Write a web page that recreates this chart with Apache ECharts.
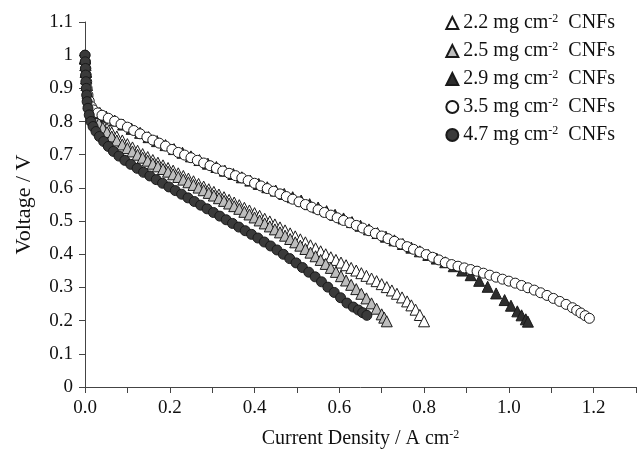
<!DOCTYPE html>
<html>
<head>
<meta charset="utf-8">
<script src="https://cdn.jsdelivr.net/npm/echarts@6/dist/echarts.min.js"></script>
<style>
  html, body { margin: 0; padding: 0; background: #fff; }
  #chart { width: 638px; height: 451px; }
</style>
</head>
<body>
<div id="chart"></div>
<script>
// 电流密度 / 电压 数据 (A cm-2, V)
var cur22 = [0, 0.001, 0.002, 0.003, 0.004, 0.006, 0.009, 0.013, 0.018, 0.025, 0.033, 0.042, 0.052, 0.063, 0.075, 0.088, 0.1, 0.112, 0.124, 0.136, 0.148, 0.16, 0.172, 0.184, 0.196, 0.208, 0.22, 0.232, 0.244, 0.256, 0.268, 0.28, 0.292, 0.304, 0.316, 0.328, 0.34, 0.352, 0.364, 0.376, 0.388, 0.4, 0.412, 0.424, 0.436, 0.448, 0.46, 0.472, 0.484, 0.496, 0.508, 0.52, 0.532, 0.544, 0.556, 0.568, 0.58, 0.592, 0.604, 0.616, 0.628, 0.64, 0.652, 0.664, 0.676, 0.688, 0.7, 0.712, 0.724, 0.736, 0.748, 0.76, 0.77, 0.78, 0.79, 0.8]
var volt22 = [0.99, 0.97, 0.95, 0.93, 0.91, 0.89, 0.87, 0.85, 0.835, 0.82, 0.805, 0.792, 0.779, 0.767, 0.755, 0.743, 0.732, 0.722, 0.712, 0.702, 0.693, 0.684, 0.676, 0.668, 0.66, 0.652, 0.644, 0.636, 0.628, 0.62, 0.612, 0.604, 0.596, 0.588, 0.58, 0.572, 0.564, 0.556, 0.548, 0.54, 0.532, 0.524, 0.516, 0.507, 0.499, 0.49, 0.481, 0.472, 0.463, 0.454, 0.445, 0.436, 0.427, 0.418, 0.409, 0.4, 0.391, 0.383, 0.375, 0.367, 0.359, 0.351, 0.343, 0.335, 0.327, 0.319, 0.31, 0.301, 0.291, 0.281, 0.27, 0.258, 0.246, 0.233, 0.217, 0.198]

var cur25 = [0, 0.001, 0.002, 0.003, 0.004, 0.006, 0.009, 0.013, 0.018, 0.025, 0.033, 0.042, 0.052, 0.063, 0.075, 0.088, 0.1, 0.112, 0.124, 0.136, 0.148, 0.16, 0.172, 0.184, 0.196, 0.208, 0.22, 0.232, 0.244, 0.256, 0.268, 0.28, 0.292, 0.304, 0.316, 0.328, 0.34, 0.352, 0.364, 0.376, 0.388, 0.4, 0.412, 0.424, 0.436, 0.448, 0.46, 0.472, 0.484, 0.496, 0.508, 0.52, 0.532, 0.544, 0.556, 0.568, 0.58, 0.592, 0.604, 0.616, 0.628, 0.64, 0.652, 0.664, 0.676, 0.688, 0.7, 0.706, 0.712]
var volt25 = [0.99, 0.97, 0.95, 0.93, 0.91, 0.885, 0.862, 0.842, 0.826, 0.81, 0.795, 0.781, 0.768, 0.755, 0.743, 0.731, 0.72, 0.71, 0.7, 0.691, 0.682, 0.673, 0.665, 0.657, 0.649, 0.641, 0.633, 0.625, 0.617, 0.609, 0.601, 0.593, 0.585, 0.577, 0.569, 0.561, 0.553, 0.545, 0.537, 0.528, 0.52, 0.511, 0.502, 0.493, 0.484, 0.475, 0.466, 0.456, 0.446, 0.436, 0.426, 0.416, 0.405, 0.394, 0.383, 0.371, 0.359, 0.347, 0.334, 0.321, 0.308, 0.295, 0.281, 0.267, 0.252, 0.236, 0.219, 0.209, 0.198]

var cur29 = [0, 0.002, 0.004, 0.007, 0.012, 0.02, 0.035, 0.05, 0.07, 0.09, 0.11, 0.13, 0.15, 0.17, 0.19, 0.21, 0.23, 0.25, 0.27, 0.29, 0.31, 0.33, 0.35, 0.37, 0.39, 0.41, 0.43, 0.45, 0.47, 0.49, 0.51, 0.53, 0.55, 0.57, 0.59, 0.61, 0.63, 0.65, 0.67, 0.69, 0.71, 0.73, 0.75, 0.77, 0.79, 0.81, 0.83, 0.85, 0.87, 0.89, 0.91, 0.93, 0.95, 0.97, 0.99, 1.005, 1.02, 1.03, 1.04, 1.045]
var volt29 = [0.99, 0.95, 0.91, 0.88, 0.855, 0.838, 0.826, 0.815, 0.803, 0.791, 0.778, 0.766, 0.753, 0.741, 0.729, 0.717, 0.706, 0.695, 0.684, 0.673, 0.663, 0.652, 0.642, 0.632, 0.622, 0.612, 0.602, 0.592, 0.582, 0.572, 0.562, 0.551, 0.541, 0.53, 0.519, 0.508, 0.497, 0.486, 0.475, 0.464, 0.453, 0.442, 0.431, 0.42, 0.409, 0.398, 0.387, 0.376, 0.364, 0.351, 0.337, 0.32, 0.302, 0.282, 0.262, 0.245, 0.228, 0.216, 0.204, 0.197]

var cur35 = [0, 0.001, 0.002, 0.003, 0.004, 0.005, 0.007, 0.01, 0.015, 0.02, 0.03, 0.04, 0.055, 0.07, 0.085, 0.1, 0.115, 0.13, 0.146, 0.16, 0.175, 0.19, 0.205, 0.22, 0.235, 0.25, 0.265, 0.28, 0.295, 0.31, 0.325, 0.34, 0.355, 0.37, 0.385, 0.4, 0.415, 0.43, 0.445, 0.46, 0.475, 0.49, 0.505, 0.52, 0.535, 0.55, 0.565, 0.58, 0.595, 0.61, 0.625, 0.64, 0.655, 0.67, 0.685, 0.7, 0.715, 0.73, 0.745, 0.76, 0.775, 0.79, 0.805, 0.82, 0.835, 0.85, 0.865, 0.88, 0.895, 0.91, 0.925, 0.94, 0.955, 0.97, 0.985, 1.0, 1.015, 1.03, 1.045, 1.06, 1.075, 1.09, 1.105, 1.12, 1.135, 1.15, 1.16, 1.17, 1.18, 1.19]
var volt35 = [1.0, 0.98, 0.96, 0.94, 0.92, 0.9, 0.88, 0.862, 0.845, 0.835, 0.826, 0.819, 0.81, 0.801, 0.792, 0.783, 0.773, 0.763, 0.753, 0.744, 0.735, 0.726, 0.716, 0.707, 0.699, 0.691, 0.683, 0.675, 0.667, 0.659, 0.651, 0.644, 0.637, 0.63, 0.622, 0.614, 0.606, 0.598, 0.59, 0.582, 0.574, 0.566, 0.558, 0.55, 0.542, 0.534, 0.526, 0.518, 0.51, 0.502, 0.495, 0.487, 0.479, 0.471, 0.463, 0.455, 0.447, 0.439, 0.431, 0.423, 0.415, 0.407, 0.399, 0.391, 0.383, 0.375, 0.369, 0.364, 0.359, 0.354, 0.349, 0.343, 0.337, 0.331, 0.325, 0.319, 0.313, 0.306, 0.299, 0.292, 0.284, 0.276, 0.267, 0.258, 0.249, 0.239, 0.231, 0.223, 0.215, 0.207]

var cur47 = [0, 0.0005, 0.001, 0.0015, 0.002, 0.003, 0.004, 0.005, 0.007, 0.01, 0.014, 0.019, 0.026, 0.034, 0.044, 0.055, 0.067, 0.08, 0.094, 0.108, 0.123, 0.138, 0.153, 0.168, 0.183, 0.198, 0.213, 0.228, 0.243, 0.258, 0.273, 0.288, 0.303, 0.318, 0.333, 0.348, 0.363, 0.378, 0.393, 0.408, 0.423, 0.438, 0.453, 0.468, 0.483, 0.498, 0.513, 0.528, 0.543, 0.558, 0.573, 0.588, 0.603, 0.618, 0.633, 0.645, 0.655, 0.665]
var volt47 = [1.0, 0.98, 0.96, 0.94, 0.92, 0.9, 0.88, 0.86, 0.84, 0.82, 0.8, 0.785, 0.77, 0.755, 0.74, 0.725, 0.71, 0.696, 0.683, 0.671, 0.659, 0.647, 0.636, 0.625, 0.614, 0.603, 0.592, 0.581, 0.57, 0.559, 0.548, 0.537, 0.526, 0.515, 0.504, 0.493, 0.482, 0.471, 0.46, 0.449, 0.437, 0.425, 0.413, 0.4, 0.387, 0.374, 0.36, 0.346, 0.332, 0.317, 0.301, 0.285, 0.269, 0.253, 0.241, 0.232, 0.224, 0.216]

var loadings = ['2.2', '2.5', '2.9', '3.5', '4.7']

function pairs(xs, ys) {
  return xs.map(function (x, i) { return [x, ys[i]] })
}

var chart = echarts.init(document.getElementById('chart'))
var font = 'Liberation Serif'

// 上标文字样式 (cm-2)
var richText = {
  t: { fontFamily: font, fontSize: 20, color: '#111' },
  s: { fontFamily: font, fontSize: 12, color: '#111', verticalAlign: 'top', padding: [0, 0, 8, 0] }
}

// 每个系列的标记样式
function makeSeries(name, xs, ys, symbol, fill, size) {
  return {
    name: name,
    type: 'scatter',
    data: pairs(xs, ys),
    symbol: symbol,
    symbolSize: size,
    itemStyle: { color: fill, borderColor: '#1a1a1a', borderWidth: 1, opacity: 1 },
    emphasis: { disabled: true },
    animation: false
  }
}

chart.setOption({
  backgroundColor: '#fff',
  textStyle: { fontFamily: font },
  grid: { left: 85, right: 2, top: 22, bottom: 64, containLabel: false, outerBoundsMode: 'none' },
  legend: {
    orient: 'vertical',
    right: 18,
    top: 8,
    itemWidth: 12,
    itemHeight: 12,
    itemGap: 8,
    data: loadings,
    formatter: function (name) {
      return '{t|' + name + ' mg cm}{s|-2}{t|  CNFs}'
    },
    textStyle: { fontFamily: font, color: '#111', rich: richText }
  },
  xAxis: {
    type: 'value',
    min: 0,
    max: 1.3,
    interval: 0.1,
    name: '{t|Current Density / A cm}{s|-2}',
    nameLocation: 'middle',
    nameGap: 42,
    nameTextStyle: { rich: richText },
    splitLine: { show: false },
    axisLine: { lineStyle: { color: '#444', width: 1 } },
    axisTick: { length: 6, lineStyle: { color: '#444' } },
    axisLabel: {
      margin: 12,
      fontFamily: font,
      fontSize: 19,
      color: '#111',
      formatter: function (v) {
        var k = Math.round(v * 10)
        return k % 2 === 0 ? v.toFixed(1) : ''
      }
    }
  },
  yAxis: {
    type: 'value',
    min: 0,
    max: 1.1,
    interval: 0.1,
    name: 'Voltage / V',
    nameLocation: 'middle',
    nameGap: 50,
    nameTextStyle: { fontFamily: font, fontSize: 22, color: '#111' },
    splitLine: { show: false },
    axisLine: { show: true, lineStyle: { color: '#444', width: 1 } },
    axisTick: { show: true, length: 6, lineStyle: { color: '#444' } },
    axisLabel: {
      margin: 12,
      fontFamily: font,
      fontSize: 19,
      color: '#111',
      formatter: function (v) { return String(Math.round(v * 10) / 10) }
    }
  },
  series: [
    makeSeries('2.2', cur22, volt22, 'triangle', '#ffffff', 11),
    makeSeries('2.5', cur25, volt25, 'triangle', '#bdbdbd', 11),
    makeSeries('2.9', cur29, volt29, 'triangle', '#2e2e2e', 11),
    makeSeries('3.5', cur35, volt35, 'circle', '#ffffff', 10),
    makeSeries('4.7', cur47, volt47, 'circle', '#3a3a3a', 10)
  ]
})
</script>
</body>
</html>
